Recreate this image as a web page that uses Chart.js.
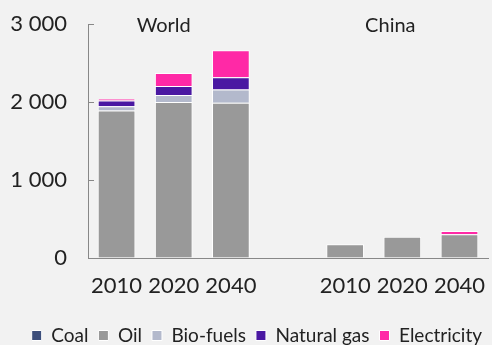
<!DOCTYPE html>
<html>
<head>
<meta charset="UTF-8">
<script src="https://cdn.jsdelivr.net/npm/chart.js@4"></script>
<style>
  body { margin: 0; background: #f2f2f2; }
  #wrap { width: 492px; height: 345px; }
</style>
</head>
<body>
<div id="wrap"><canvas id="c"></canvas></div>
<script>
// categories: World 2010/2020/2040, spacer, China 2010/2020/2040
const years = ['2010', '2020', '2040', '', '2010', '2020', '2040'];
const groups = ['World', 'China'];
const coal = [null, null, null, null, null, null, null];
const oil = [1890, 2000, 1990, null, 175, 272, 305];
const biofuels = [55, 90, 170, null, null, null, null];
const naturalGas = [73, 115, 157, null, null, null, null];
const electricity = [25, 166, 345, null, null, null, 42];
const yTicks = [0, 1000, 2000, 3000];

const FONT = 'Lato, "Open Sans", sans-serif';

// group titles + inward tick marks on y axis
const extras = {
  id: 'extras',
  afterDraw(chart) {
    const { ctx, scales } = chart;
    const x = scales.x, y = scales.y;
    ctx.save();
    ctx.strokeStyle = '#888';
    ctx.lineWidth = 1;
    yTicks.forEach(v => {
      const py = Math.round(y.getPixelForValue(v)) + 0.5;
      ctx.beginPath();
      ctx.moveTo(x.left, py);
      ctx.lineTo(x.left + 6, py);
      ctx.stroke();
    });
    ctx.fillStyle = '#222';
    ctx.font = '20px ' + FONT;
    ctx.textAlign = 'center';
    ctx.textBaseline = 'middle';
    ctx.fillText(groups[0], x.getPixelForValue(1) - 10, 26);
    ctx.fillText(groups[1], x.getPixelForValue(5) - 12, 26);
    ctx.restore();
  }
};

new Chart(document.getElementById('c'), {
  type: 'bar',
  data: {
    labels: years,
    datasets: [
      { label: 'Coal', data: coal, backgroundColor: '#3d4f7c' },
      { label: 'Oil', data: oil, backgroundColor: '#999999' },
      { label: 'Bio-fuels', data: biofuels, backgroundColor: '#b3b9cc' },
      { label: 'Natural gas', data: naturalGas, backgroundColor: '#4a18a2' },
      { label: 'Electricity', data: electricity, backgroundColor: '#ff29a6' }
    ].map(d => Object.assign(d, {
      borderColor: '#ffffff',
      borderWidth: 1,
      barPercentage: 0.66,
      categoryPercentage: 1
    }))
  },
  options: {
    responsive: true,
    maintainAspectRatio: false,
    animation: false,
    layout: { padding: { top: 24, right: 0, left: 0, bottom: -10 } },
    plugins: {
      legend: {
        position: 'bottom',
        align: 'end',
        labels: {
          boxWidth: 10,
          boxHeight: 10,
          padding: 10,
          color: '#222',
          font: { family: FONT, size: 19 }
        }
      },
      tooltip: { enabled: false }
    },
    scales: {
      x: {
        stacked: true,
        grid: { display: false },
        border: { color: '#888' },
        afterFit: s => { s.height = 58; },
        ticks: { color: '#222', font: { family: FONT, size: 22 }, padding: 7, maxRotation: 0, autoSkip: false }
      },
      y: {
        stacked: true,
        min: 0,
        max: 3000,
        afterBuildTicks: axis => { axis.ticks = yTicks.map(v => ({ value: v })); },
        afterFit: s => { s.width = 88; },
        grid: { display: true, drawOnChartArea: false, drawTicks: true, tickLength: 21, tickColor: 'rgba(0,0,0,0)' },
        border: { color: '#888' },
        ticks: {
          color: '#222',
          padding: 0,
          font: { family: FONT, size: 22 },
          callback: v => v.toString().replace(/\B(?=(\d{3})+(?!\d))/g, ' ')
        }
      }
    }
  },
  plugins: [extras]
});
</script>
</body>
</html>
